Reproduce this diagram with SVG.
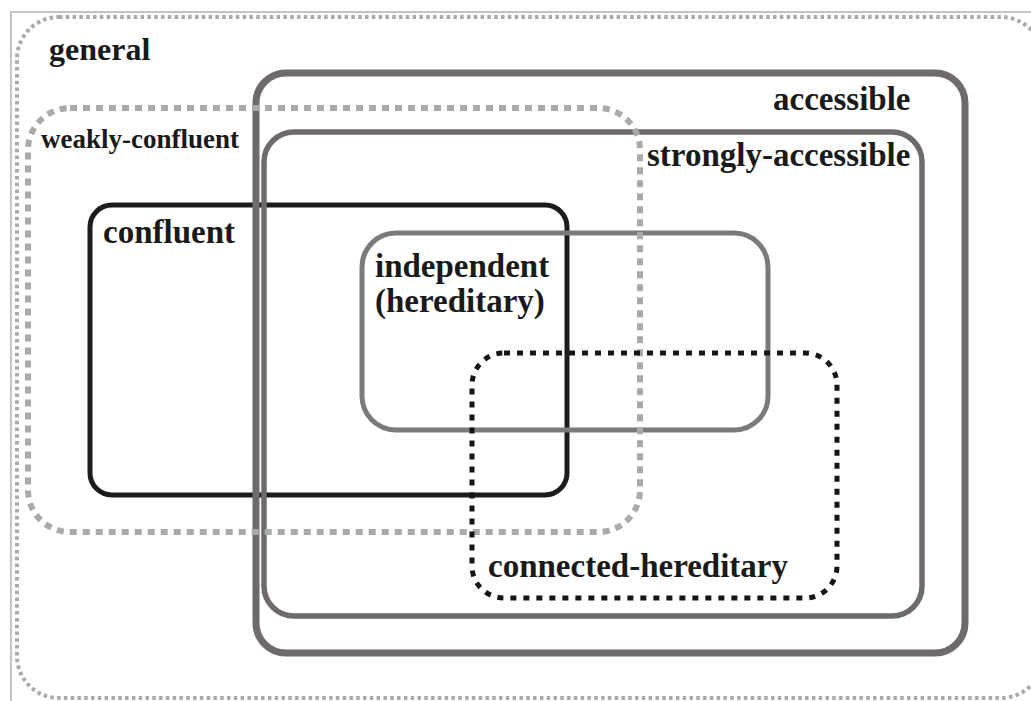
<svg xmlns="http://www.w3.org/2000/svg" width="1031" height="701" viewBox="0 0 1031 701">
<style>
text{font-family:"Liberation Serif","Times New Roman",serif;font-weight:bold;fill:#1a1a1a;font-size:33px}
text.sm{font-size:27px}
text.g{font-size:32px}
.b{fill:none}
</style>
<rect x="0" y="0" width="1031" height="701" fill="#fff"/>
<rect x="11" y="12" width="1040" height="700" class="b" stroke="#c4c4c4" stroke-width="2"/>
<g id="general">
<rect x="17" y="17" width="1026" height="681" rx="42" class="b" stroke="#aaaaaa" stroke-width="4" stroke-dasharray="3.5 3.3"/>
<text class="g" x="49" y="60">general</text>
</g>
<g id="confluent">
<rect x="90" y="205" width="477" height="290" rx="22" class="b" stroke="#1c1c1c" stroke-width="5"/>
<text x="103" y="243">confluent</text>
</g>
<g id="accessible">
<rect x="256" y="73" width="709" height="580" rx="30" class="b" stroke="#6e6a6d" stroke-width="7"/>
<text x="773" y="110">accessible</text>
</g>
<g id="strongly-accessible">
<rect x="264" y="132" width="658" height="484" rx="30" class="b" stroke="#6e6a6d" stroke-width="5.5"/>
<text x="647" y="166">strongly-accessible</text>
</g>
<g id="independent">
<rect x="362" y="233" width="406" height="197" rx="34" class="b" stroke="#7a7a7a" stroke-width="5"/>
<text x="375" y="277">independent</text>
<text x="375" y="312">(hereditary)</text>
</g>
<g id="weakly-confluent">
<rect x="28" y="108" width="612" height="424" rx="42" class="b" stroke="#aaaaaa" stroke-width="6" stroke-dasharray="7 6"/>
<text class="sm" x="41" y="148">weakly-confluent</text>
</g>
<g id="connected-hereditary">
<rect x="472" y="353" width="365" height="245" rx="32" class="b" stroke="#151515" stroke-width="5" stroke-dasharray="6 7"/>
<text x="488" y="577">connected-hereditary</text>
</g>
<g id="connectors"></g>
</svg>
